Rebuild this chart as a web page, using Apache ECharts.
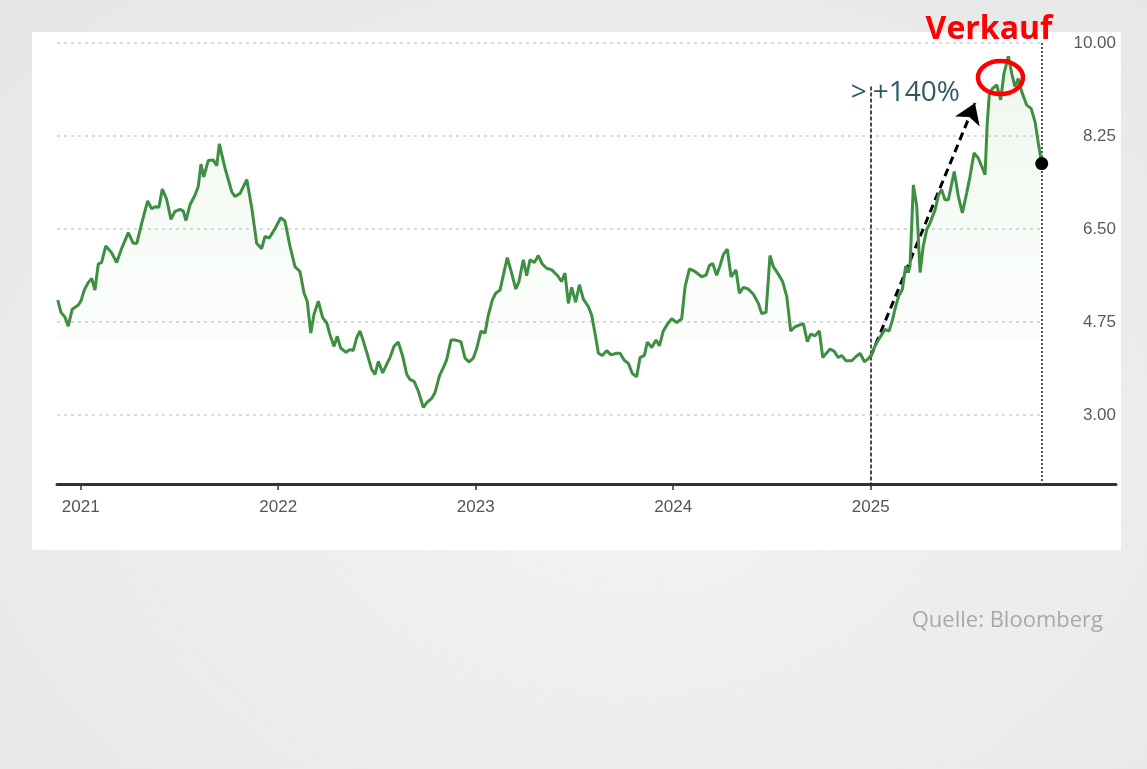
<!DOCTYPE html>
<html><head><meta charset="utf-8">
<script src="https://cdn.jsdelivr.net/npm/echarts@6/dist/echarts.min.js"></script>
<style>
html,body{margin:0;padding:0;}
body{width:1147px;height:769px;background:radial-gradient(ellipse at 55% 60%, #f3f3f3 0%, #ececec 55%, #e6e6e6 100%);position:relative;overflow:hidden;}
#card{position:absolute;left:32px;top:32px;width:1089px;height:518px;background:#fff;}
#c{position:absolute;left:0;top:0;width:1147px;height:769px;}
</style>
</head><body><div id="card"></div><div id="c"></div>
<script>
// time in decimal years, price values
const years = [2020.884,2020.900,2020.921,2020.937,2020.957,2020.988,2021.002,2021.018,2021.038,2021.056,2021.072,2021.089,2021.106,2021.127,2021.157,2021.182,2021.208,2021.241,2021.266,2021.284,2021.309,2021.339,2021.359,2021.376,2021.396,2021.413,2021.435,2021.457,2021.477,2021.503,2021.519,2021.533,2021.553,2021.579,2021.595,2021.609,2021.623,2021.646,2021.671,2021.689,2021.702,2021.714,2021.731,2021.765,2021.781,2021.807,2021.841,2021.866,2021.891,2021.916,2021.933,2021.955,2021.984,2022.013,2022.034,2022.060,2022.085,2022.110,2022.131,2022.147,2022.165,2022.181,2022.203,2022.225,2022.246,2022.262,2022.283,2022.299,2022.316,2022.343,2022.364,2022.380,2022.397,2022.414,2022.431,2022.456,2022.473,2022.490,2022.507,2022.529,2022.549,2022.566,2022.586,2022.608,2022.630,2022.651,2022.667,2022.688,2022.709,2022.735,2022.752,2022.777,2022.794,2022.816,2022.836,2022.853,2022.875,2022.895,2022.925,2022.946,2022.966,2022.988,2023.005,2023.027,2023.047,2023.064,2023.084,2023.101,2023.123,2023.140,2023.160,2023.182,2023.203,2023.219,2023.241,2023.258,2023.275,2023.297,2023.317,2023.337,2023.359,2023.385,2023.415,2023.435,2023.452,2023.469,2023.486,2023.506,2023.525,2023.545,2023.570,2023.587,2023.604,2023.621,2023.641,2023.663,2023.685,2023.714,2023.731,2023.752,2023.773,2023.793,2023.815,2023.832,2023.854,2023.869,2023.891,2023.913,2023.930,2023.950,2023.967,2023.992,2024.018,2024.043,2024.060,2024.082,2024.110,2024.144,2024.166,2024.183,2024.200,2024.220,2024.237,2024.254,2024.274,2024.293,2024.318,2024.335,2024.355,2024.380,2024.406,2024.431,2024.448,2024.470,2024.490,2024.507,2024.532,2024.554,2024.575,2024.595,2024.617,2024.659,2024.679,2024.696,2024.718,2024.740,2024.757,2024.794,2024.814,2024.836,2024.853,2024.875,2024.904,2024.926,2024.946,2024.968,2024.988,2025.002,2025.022,2025.047,2025.072,2025.093,2025.109,2025.127,2025.143,2025.160,2025.177,2025.190,2025.199,2025.216,2025.233,2025.250,2025.266,2025.284,2025.300,2025.326,2025.343,2025.359,2025.376,2025.393,2025.423,2025.444,2025.464,2025.486,2025.503,2025.523,2025.545,2025.562,2025.579,2025.590,2025.601,2025.616,2025.638,2025.658,2025.675,2025.697,2025.714,2025.730,2025.747,2025.765,2025.790,2025.812,2025.832,2025.849,2025.866];
const values = [5.16,4.93,4.84,4.67,4.99,5.07,5.15,5.35,5.49,5.57,5.35,5.84,5.87,6.18,6.05,5.87,6.14,6.43,6.23,6.23,6.61,7.03,6.88,6.92,6.91,7.25,7.06,6.68,6.83,6.87,6.84,6.66,6.95,7.14,7.30,7.72,7.48,7.79,7.80,7.69,8.10,7.91,7.64,7.20,7.11,7.17,7.43,6.90,6.23,6.13,6.36,6.33,6.51,6.71,6.65,6.17,5.79,5.70,5.29,5.14,4.54,4.89,5.14,4.83,4.73,4.51,4.29,4.48,4.26,4.18,4.23,4.21,4.45,4.58,4.39,4.08,3.86,3.76,4.01,3.79,3.95,4.08,4.29,4.37,4.11,3.76,3.67,3.63,3.45,3.14,3.23,3.31,3.42,3.73,3.89,4.04,4.41,4.41,4.38,4.07,4.00,4.07,4.25,4.58,4.54,4.88,5.16,5.29,5.35,5.63,5.96,5.67,5.37,5.51,5.92,5.62,5.92,5.87,6.00,5.84,5.76,5.73,5.62,5.51,5.67,5.10,5.40,5.12,5.45,5.18,5.04,4.88,4.54,4.16,4.12,4.21,4.13,4.16,4.16,4.03,3.97,3.78,3.72,4.08,4.12,4.37,4.27,4.41,4.30,4.58,4.69,4.81,4.74,4.81,5.41,5.75,5.70,5.60,5.63,5.81,5.85,5.63,5.81,6.02,6.12,5.60,5.73,5.29,5.40,5.37,5.27,5.10,4.91,4.93,6.00,5.79,5.65,5.51,5.23,4.58,4.66,4.72,4.38,4.52,4.49,4.58,4.08,4.24,4.20,4.08,4.12,4.02,4.02,4.10,4.16,4.00,4.06,4.12,4.30,4.46,4.61,4.58,4.77,5.05,5.25,5.36,5.80,5.68,5.80,7.33,6.93,5.68,6.18,6.49,6.61,6.86,7.14,7.24,7.05,7.05,7.58,7.11,6.80,7.18,7.49,7.93,7.83,7.68,7.52,8.49,9.05,9.14,9.21,8.93,9.43,9.75,9.43,9.18,9.33,9.08,8.83,8.77,8.52,8.11,7.73];
const yearTicks = [2021, 2022, 2023, 2024, 2025];
const priceTicks = [3.00, 4.75, 6.50, 8.25, 10.00];
const xMin = 2020.88, xMax = 2026.242, yMin = 1.7, yMax = 10;
// annotations
const buyYear = 2025.0, buyValue = 4.10;
const arrowTipYear = 2025.528, arrowTipValue = 8.87;
const buyLineTop = 9.18;
const sellYear = 2025.657, sellValue = 9.35;
const sellLabel = 'Verkauf';
const gainLabelLeft = '>';
const gainLabelRight = '+140%';
const sourceLabel = 'Quelle: Bloomberg';

const lastYear = years[years.length - 1];
const lastValue = values[values.length - 1];
const lineData = years.map((y, i) => [y, values[i]]);

const chart = echarts.init(document.getElementById('c'), null, {renderer: 'canvas'});
const axisFont = '"Liberation Sans", Arial, Helvetica, sans-serif';

chart.setOption({
  animation: false,
  backgroundColor: 'transparent',
  grid: {left: 57, right: 31, top: 43, bottom: 285, containLabel: false},
  xAxis: {
    type: 'value', min: xMin, max: xMax,
    axisLine: {show: true, lineStyle: {color: '#333', width: 3}},
    axisTick: {show: true, length: 6, lineStyle: {color: '#333', width: 1.5}, customValues: yearTicks},
    axisLabel: {customValues: yearTicks, formatter: v => String(Math.round(v)), color: '#555', fontSize: 17, fontFamily: axisFont, margin: 15},
    splitLine: {show: false}
  },
  yAxis: {
    type: 'value', min: yMin, max: yMax, position: 'right',
    axisLine: {show: false}, axisTick: {show: false},
    axisLabel: {customValues: priceTicks, inside: true, margin: 0, formatter: v => v.toFixed(2), color: '#5a5a5a', fontSize: 17, fontFamily: axisFont},
    splitLine: {show: false}
  },
  series: [
    {
      type: 'line', data: lineData, showSymbol: false, symbol: 'none', z: 5,
      lineStyle: {color: '#3d8f41', width: 3},
      itemStyle: {color: '#3d8f41'},
      areaStyle: {origin: 'start', color: new echarts.graphic.LinearGradient(0, 0, 0, 1, [
        {offset: 0, color: 'rgba(90,170,80,0.13)'},
        {offset: 0.66, color: 'rgba(90,170,80,0.03)'},
        {offset: 0.68, color: 'rgba(255,255,255,0)'},
        {offset: 1, color: 'rgba(255,255,255,0)'}
      ])},
      markLine: {
        silent: true, symbol: 'none', label: {show: false},
        lineStyle: {color: '#cfcfcf', width: 1.5, type: [3, 4]},
        data: priceTicks.map(p => [{coord: [xMin, p]}, {coord: [lastYear, p]}])
      }
    },
    {
      type: 'line', data: [], z: 6,
      markLine: {
        silent: true, symbol: 'none', label: {show: false},
        data: [
          [{coord: [lastYear, yMax], lineStyle: {color: '#555', width: 2, type: [2, 2]}}, {coord: [lastYear, yMin]}],
          [{coord: [buyYear, buyLineTop], lineStyle: {color: '#111', width: 1.5, type: [4, 2]}}, {coord: [buyYear, yMin]}]
        ]
      }
    },
    {
      type: 'line', data: [], z: 7,
      markLine: {
        silent: true, symbol: ['none', 'arrow'], symbolSize: 20, label: {show: false},
        lineStyle: {color: '#000', width: 3, type: [8, 5]},
        data: [[{coord: [buyYear, buyValue]}, {coord: [arrowTipYear, arrowTipValue]}]]
      }
    },
    {
      type: 'scatter', data: [[lastYear, lastValue]], symbolSize: 13, z: 8,
      itemStyle: {color: '#000', opacity: 1}, silent: true
    }
  ]
});

const px = (x, y) => chart.convertToPixel({gridIndex: 0}, [x, y]);
const sellPt = px(sellYear, sellValue);
const topPt = px(2025.599, yMax);
const buyTextPt = px(buyYear, 9.06);
chart.setOption({
  graphic: [
    {type: 'ellipse', shape: {cx: sellPt[0], cy: sellPt[1], rx: 22.5, ry: 16.5}, style: {fill: 'none', stroke: '#ff0000', lineWidth: 4.5}, z: 20},
    {type: 'text', x: topPt[0], y: topPt[1] - 13, z: 20, style: {text: sellLabel, fill: '#ff0000', font: 'bold 32px "Open Sans", sans-serif', align: 'center', verticalAlign: 'middle'}},
    {type: 'text', x: buyTextPt[0] - 4, y: buyTextPt[1], z: 20, style: {text: gainLabelLeft, fill: '#2e5a66', font: '28px "Open Sans", sans-serif', align: 'right', verticalAlign: 'middle'}},
    {type: 'text', x: buyTextPt[0] + 2, y: buyTextPt[1], z: 20, style: {text: gainLabelRight, fill: '#2e5a66', font: '28px "Open Sans", sans-serif', align: 'left', verticalAlign: 'middle'}},
    {type: 'text', x: 1103, y: 621, z: 20, style: {text: sourceLabel, fill: '#a9a9a9', font: '22px "Open Sans", sans-serif', align: 'right', verticalAlign: 'middle'}}
  ]
});
</script>
</body></html>
